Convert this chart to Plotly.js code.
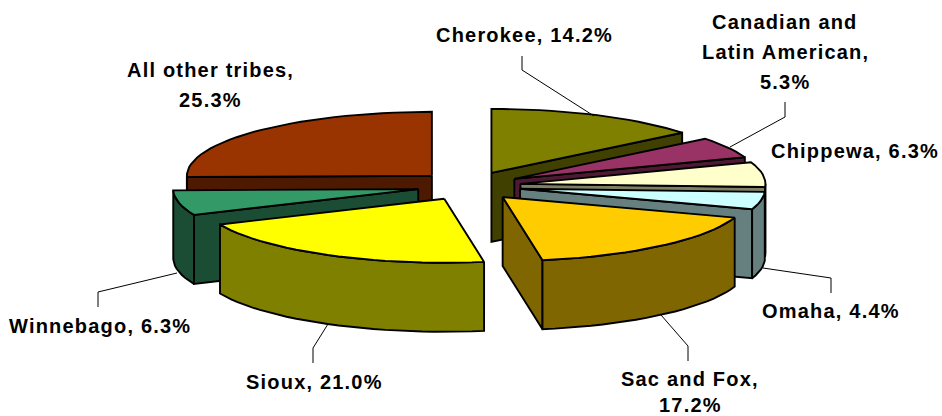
<!DOCTYPE html>
<html><head><meta charset="utf-8">
<script src="https://cdn.plot.ly/plotly-3.0.1.min.js"></script>
<style>html,body{margin:0;padding:0;background:#fff}.annotation-text{letter-spacing:1.2px}</style>
</head><body><div id="chart" style="width:942px;height:416px"></div>
<script>
const tribes = ["Cherokee","Canadian and Latin American","Chippewa","Omaha","Sac and Fox","Sioux","Winnebago","All other tribes"];
const shares = [14.2,5.3,6.3,4.4,17.2,21.0,6.3,25.3];
const topColors = ["#808000","#993366","#FFFFCC","#CCFFFF","#FFCC00","#FFFF00","#339966","#993300"];
const wallColors = ["#404000","#4D1933","#808066","#668080","#806600","#808000","#1A4D33","#4D1900"];
const drawOrder = [7,0,1,2,3,6,4,5];
const labelLines = [
 ["All other tribes,",210,70],["25.3%",210,100],
 ["Cherokee, 14.2%",524,35],
 ["Canadian and",785,22],["Latin American,",785,52],["5.3%",785,82],
 ["Chippewa, 6.3%",855,151],
 ["Omaha, 4.4%",831,311],
 ["Sac and Fox,",690,379],["17.2%",690,405],
 ["Sioux, 21.0%",314,382],
 ["Winnebago, 6.3%",100,326]
];
const leaders = [
 [[522,56],[522,70],[594,116]],
 [[785,102],[785,117],[730,147]],
 [[831,293],[831,278],[763,268]],
 [[688,361],[688,346],[661,315]],
 [[313,363],[313,348],[328,324]],
 [[98,307],[98,292],[177,273]]
];
const CX=469, CY=186, R=245, RY=64, DEPTH=69, EXPL=52, EXPLY=14.5;
const rad=d=>d*Math.PI/180;
const traces=[];
function poly(pts,fill){
  const xs=pts.map(p=>p[0]), ys=pts.map(p=>p[1]);
  xs.push(xs[0]); ys.push(ys[0]);
  traces.push({type:"scatter",mode:"lines",x:xs,y:ys,fill:"toself",fillcolor:fill,
    line:{color:"#000",width:1.9},hoverinfo:"skip",showlegend:false});
}
const total=shares.reduce((a,b)=>a+b,0);
let acc=0;
const spans=shares.map(v=>{const a=acc/total*360; acc+=v; return [a,acc/total*360];});
drawOrder.forEach(i=>{
  const [a,b]=spans[i], mid=(a+b)/2;
  const ox=CX+EXPL*Math.sin(rad(mid)), oy=CY-EXPLY*Math.cos(rad(mid));
  const P=(t,dz=0)=>[ox+R*Math.sin(rad(t)), oy-RY*Math.cos(rad(t))+dz];
  const arc=(s,e,dz=0)=>{const o=[];const n=Math.max(2,Math.ceil((e-s)/3));for(let j=0;j<=n;j++)o.push(P(s+(e-s)*j/n,dz));return o;};
  if(Math.sin(rad(a))<0) poly([[ox,oy],P(a),P(a,DEPTH),[ox,oy+DEPTH]],wallColors[i]);
  if(Math.sin(rad(b))>0) poly([[ox,oy],P(b),P(b,DEPTH),[ox,oy+DEPTH]],wallColors[i]);
  const s=Math.max(a,90), e=Math.min(b,270);
  if(e>s) poly(arc(s,e).concat(arc(s,e,DEPTH).reverse()),wallColors[i]);
  poly([[ox,oy]].concat(arc(a,b)),topColors[i]);
});
const shapes=leaders.map(l=>({type:"path",xref:"x",yref:"y",
  path:"M"+l.map(p=>p.join(",")).join("L"),line:{color:"#000",width:1}}));
const annotations=labelLines.map(([text,x,y])=>({text,x,y,xref:"x",yref:"y",xanchor:"center",yanchor:"middle",
  showarrow:false,font:{family:"Liberation Sans, Arial, sans-serif",size:20,color:"#000",weight:700}}));
Plotly.newPlot("chart",traces,{
  width:942,height:416,margin:{l:0,r:0,t:0,b:0},paper_bgcolor:"#fff",plot_bgcolor:"#fff",
  xaxis:{range:[0,942],visible:false,fixedrange:true},
  yaxis:{range:[416,0],visible:false,fixedrange:true},
  showlegend:false,shapes,annotations
},{staticPlot:true,displayModeBar:false});
</script></body></html>
